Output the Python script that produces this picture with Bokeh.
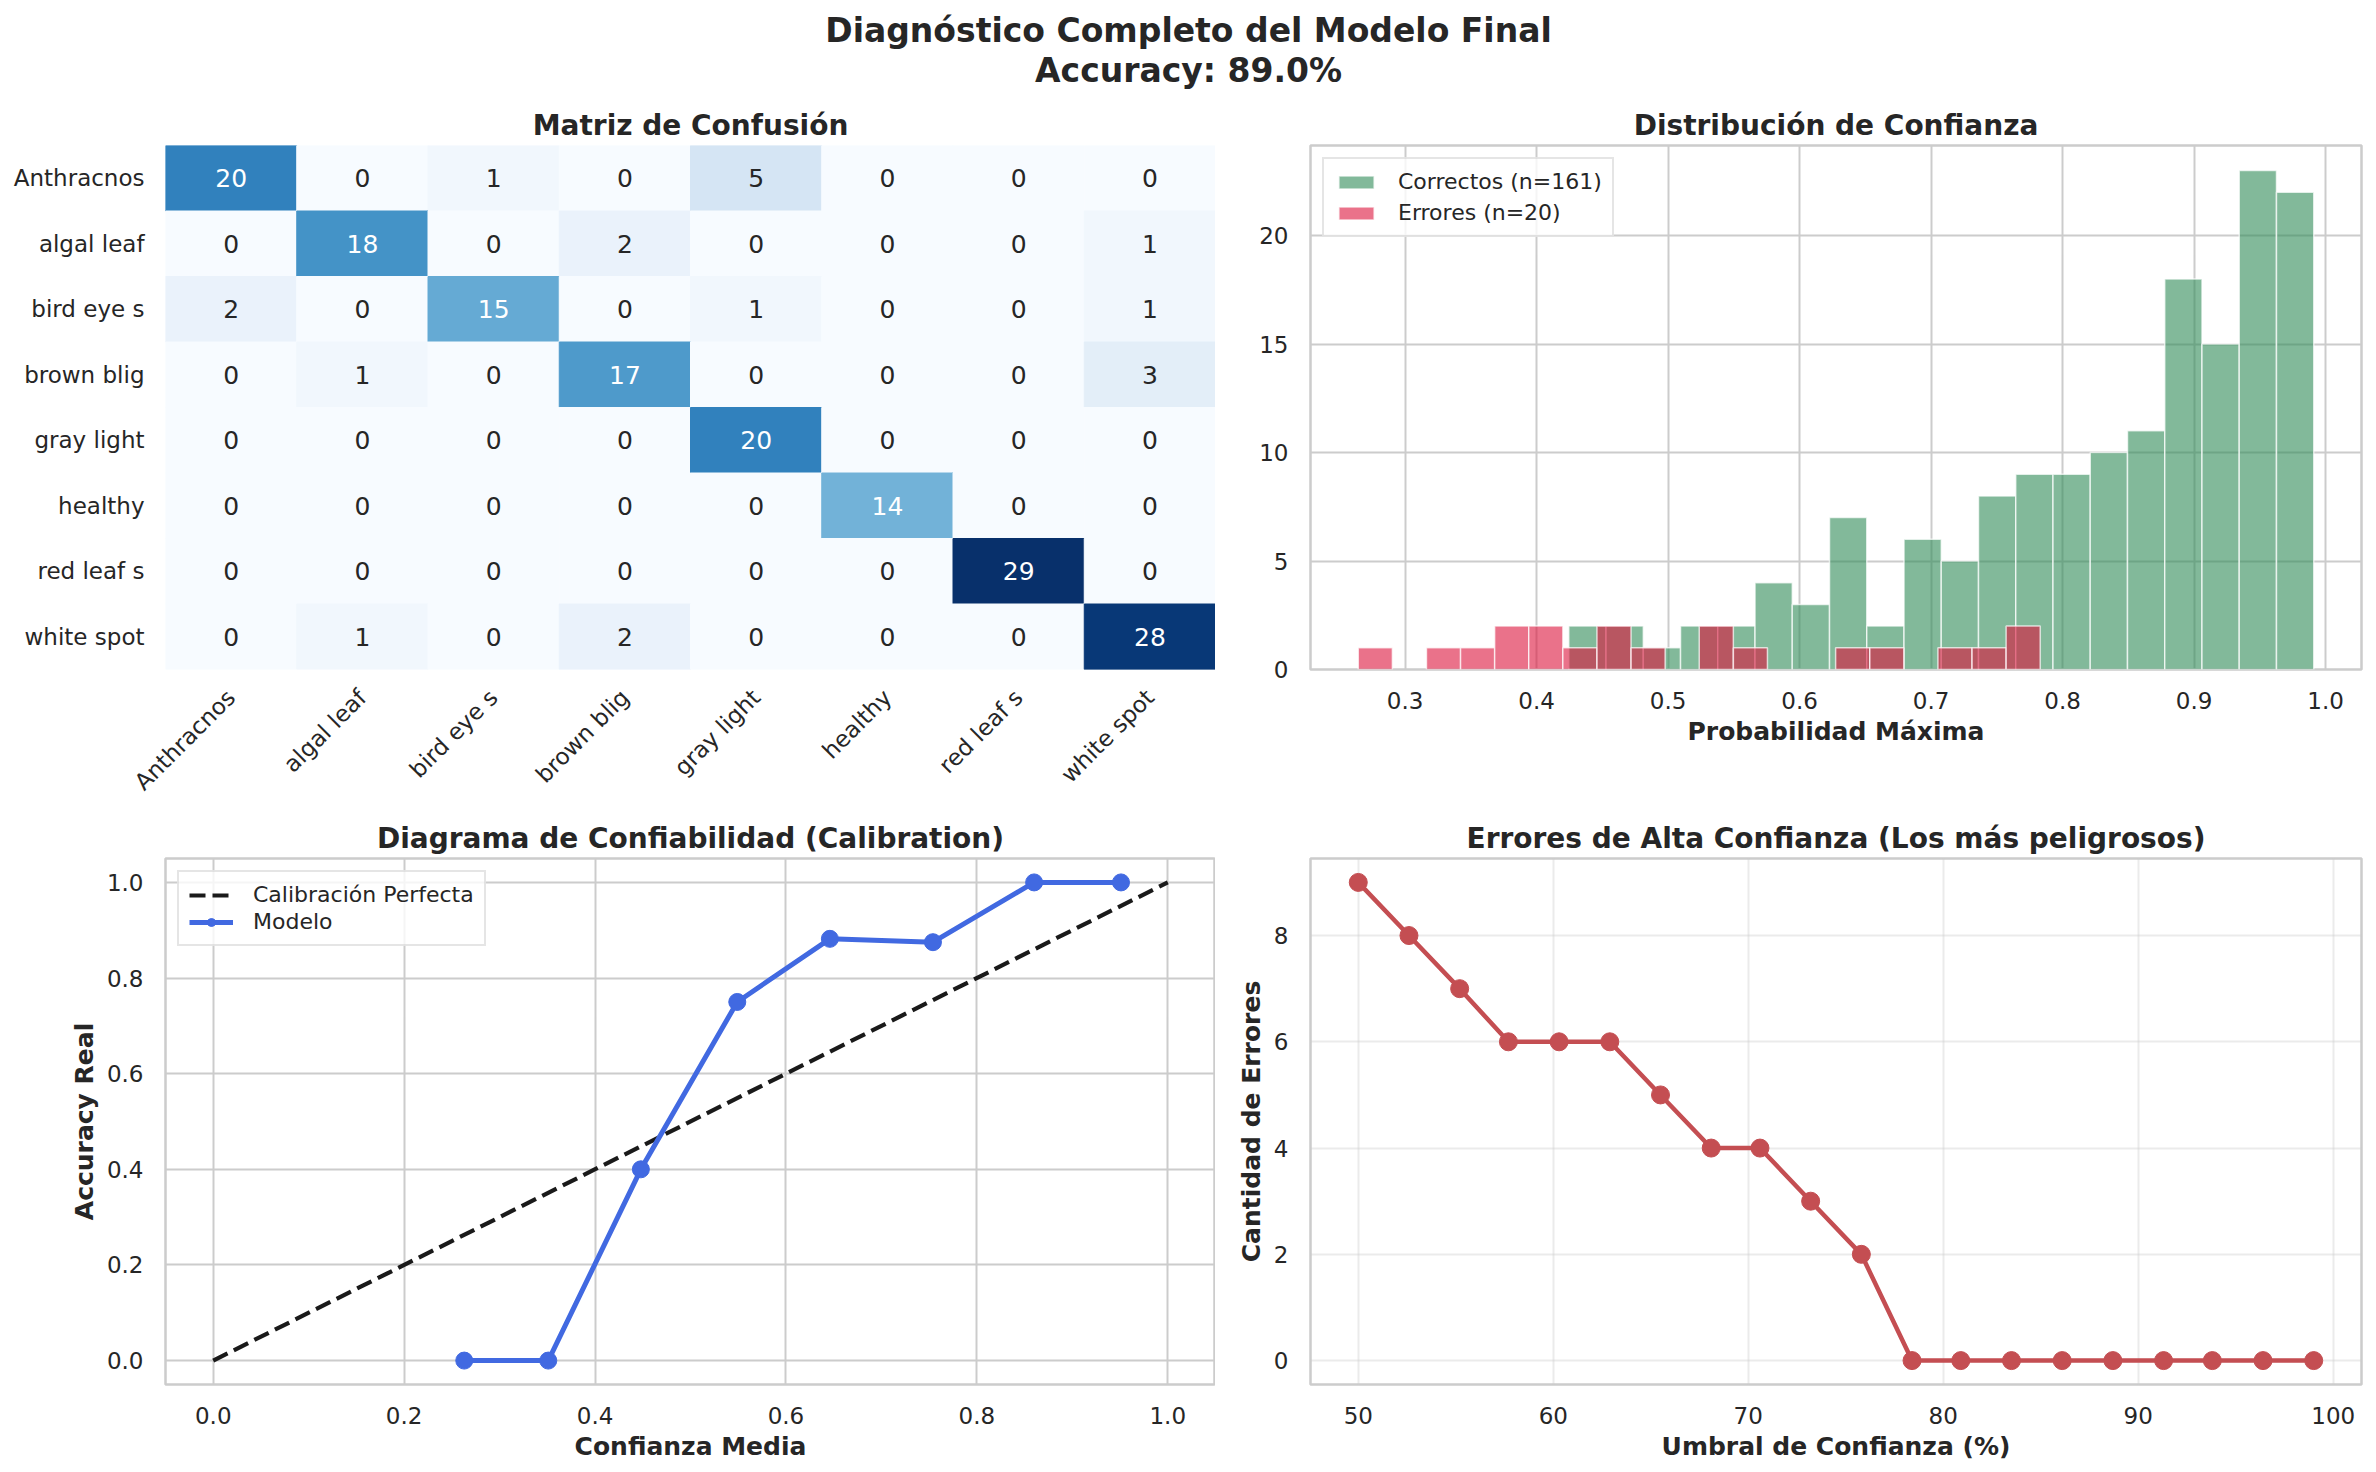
import math
import numpy as np
from bokeh.plotting import figure
from bokeh.layouts import column, row
from bokeh.models import (Range1d, FactorRange, FixedTicker, NumeralTickFormatter,
                          ColumnDataSource)
from bokeh.palettes import Blues256
from bokeh.transform import linear_cmap
from bokeh.core.properties import value
from bokeh.embed import file_html
from bokeh.resources import INLINE

FONT = "DejaVu Sans"
INK = "#262626"
SPINE = "#cccccc"

# ---------------- data ----------------
classes = ["Anthracnos", "algal leaf", "bird eye s", "brown blig",
           "gray light", "healthy", "red leaf s", "white spot"]

confusion = [
    [20, 0, 1, 0, 5, 0, 0, 0],
    [0, 18, 0, 2, 0, 0, 0, 1],
    [2, 0, 15, 0, 1, 0, 0, 1],
    [0, 1, 0, 17, 0, 0, 0, 3],
    [0, 0, 0, 0, 20, 0, 0, 0],
    [0, 0, 0, 0, 0, 14, 0, 0],
    [0, 0, 0, 0, 0, 0, 29, 0],
    [0, 1, 0, 2, 0, 0, 0, 28],
]

# histogram of max probability (20 bins each)
correct_counts = [2, 2, 1, 2, 2, 4, 3, 7, 2, 6, 5, 8, 9, 9, 10, 11, 18, 15, 23, 22]
correct_span = (0.4245, 0.991)
error_counts = [1, 0, 1, 1, 2, 2, 1, 2, 1, 0, 2, 1, 0, 0, 1, 1, 0, 1, 1, 2]
error_span = (0.2644, 0.783)

# reliability diagram
calib_conf = [0.263, 0.351, 0.448, 0.549, 0.646, 0.754, 0.860, 0.951]
calib_acc = [0.0, 0.0, 0.4, 0.75, 0.882, 0.875, 1.0, 1.0]

# high-confidence errors by threshold
thresholds = [50.0, 52.6, 55.2, 57.7, 60.3, 62.9, 65.5, 68.1, 70.6, 73.2,
              75.8, 78.4, 80.9, 83.5, 86.1, 88.7, 91.3, 93.8, 96.4, 99.0]
high_conf_errors = [9, 8, 7, 6, 6, 6, 5, 4, 4, 3, 2, 0, 0, 0, 0, 0, 0, 0, 0, 0]

cm = np.array(confusion)
accuracy = cm.trace() / cm.sum() * 100


def style_axes(p, grid_alpha=1.0):
    p.background_fill_color = "white"
    p.border_fill_color = "white"
    p.outline_line_color = SPINE
    p.outline_line_width = 2.5
    for ax in p.axis:
        ax.axis_line_color = None
        ax.major_tick_line_color = None
        ax.minor_tick_line_color = None
        ax.major_label_text_font = FONT
        ax.major_label_text_font_size = "23px"
        ax.major_label_text_color = INK
        ax.axis_label_text_font = FONT
        ax.axis_label_text_font_size = "25px"
        ax.axis_label_text_font_style = "bold"
        ax.axis_label_text_color = INK
        ax.major_label_standoff = 16
        ax.axis_label_standoff = 5
    p.grid.grid_line_color = SPINE
    p.grid.grid_line_width = 2
    p.grid.grid_line_alpha = grid_alpha
    p.title.text_font = FONT
    p.title.text_font_size = "28px"
    p.title.text_font_style = "bold"
    p.title.text_color = INK
    p.title.align = "center"
    p.title.standoff = 8


def style_legend(p, glyph_height=16):
    lg = p.legend[0]
    lg.location = "top_left"
    lg.label_text_font = FONT
    lg.label_text_font_size = "22px"
    lg.label_text_color = INK
    lg.border_line_color = SPINE
    lg.border_line_width = 2
    lg.background_fill_alpha = 0.8
    lg.glyph_width = 44
    lg.glyph_height = glyph_height
    lg.label_standoff = 20
    lg.padding = 10
    lg.spacing = 6
    lg.margin = 12


# ---------------- super title ----------------
sup = figure(width=2376, height=95, x_range=(0, 1), y_range=(0, 95),
             x_axis_type=None, y_axis_type=None, toolbar_location=None,
             output_backend="svg", min_border=0)
sup.outline_line_color = None
sup.grid.visible = False
sup.text(x=[0.5, 0.5], y=[65, 25],
         text=["Diagnóstico Completo del Modelo Final", f"Accuracy: {accuracy:.1f}%"],
         text_font=value(FONT), text_font_size="33px", text_font_style="bold",
         text_color=INK, text_align="center", text_baseline="middle")

# ---------------- confusion matrix ----------------
rows_true, cols_pred, counts = [], [], []
for i, t in enumerate(classes):
    for j, pr in enumerate(classes):
        rows_true.append(t)
        cols_pred.append(pr)
        counts.append(confusion[i][j])
vmax = cm.max()
src = ColumnDataSource(dict(
    true=rows_true, pred=cols_pred, count=counts,
    label=[str(c) for c in counts],
    tcolor=["white" if c > vmax * 0.4 else INK for c in counts],
))
p1 = figure(x_range=FactorRange(*classes), y_range=FactorRange(*classes[::-1]),
            frame_width=1050, frame_height=524,
            min_border_left=165, min_border_right=0,
            min_border_top=50, min_border_bottom=140,
            title="Matriz de Confusión", toolbar_location=None, output_backend="svg")
cmap = linear_cmap("count", Blues256[::-1], 0, vmax)
p1.rect(x="pred", y="true", width=1, height=1, source=src,
        fill_color=cmap, line_color=cmap, line_width=1)
p1.text(x="pred", y="true", text="label", source=src, text_color="tcolor",
        text_font=value(FONT), text_font_size="25px",
        text_align="center", text_baseline="middle")
style_axes(p1)
p1.outline_line_color = None
p1.grid.visible = False
p1.xaxis.major_label_orientation = math.pi / 4
p1.xaxis.major_label_standoff = 18
p1.yaxis.major_label_standoff = 15

# ---------------- confidence histogram ----------------
c_edges = np.linspace(correct_span[0], correct_span[1], len(correct_counts) + 1)
e_edges = np.linspace(error_span[0], error_span[1], len(error_counts) + 1)
lo = min(correct_span[0], error_span[0])
hi = max(correct_span[1], error_span[1])
pad = (hi - lo) * 0.05
ymax = max(max(correct_counts), max(error_counts)) * 1.05

p2 = figure(x_range=Range1d(lo - pad, hi + pad), y_range=Range1d(0, ymax),
            frame_width=1051, frame_height=524,
            min_border_left=95, min_border_right=15,
            min_border_top=50, min_border_bottom=140,
            title="Distribución de Confianza", toolbar_location=None, output_backend="svg")


def hist(p, edges, cnts, color, label):
    cnts = np.array(cnts)
    keep = cnts > 0
    p.quad(left=edges[:-1][keep], right=edges[1:][keep], bottom=0, top=cnts[keep],
           fill_color=color, fill_alpha=0.6, line_color="white", line_alpha=0.7,
           line_width=1.5, legend_label=label)


hist(p2, c_edges, correct_counts, "#2E8B57", f"Correctos (n={sum(correct_counts)})")
hist(p2, e_edges, error_counts, "#DC143C", f"Errores (n={sum(error_counts)})")
style_axes(p2)
style_legend(p2)
p2.xaxis.ticker = FixedTicker(ticks=[0.3, 0.4, 0.5, 0.6, 0.7, 0.8, 0.9, 1.0])
p2.xaxis.formatter = NumeralTickFormatter(format="0.0")
p2.yaxis.ticker = FixedTicker(ticks=[0, 5, 10, 15, 20])
p2.xaxis.axis_label = "Probabilidad Máxima"

# ---------------- reliability diagram ----------------
p3 = figure(x_range=Range1d(-0.05, 1.05), y_range=Range1d(-0.05, 1.05),
            frame_width=1050, frame_height=526,
            min_border_left=165, min_border_right=0,
            min_border_top=49, min_border_bottom=88,
            title="Diagrama de Confiabilidad (Calibration)",
            toolbar_location=None, output_backend="svg")
p3.line([0, 1], [0, 1], line_color="#1a1a1a", line_width=4.2, line_dash="16 7",
        legend_label="Calibración Perfecta")
p3.line(calib_conf, calib_acc, line_color="#4169E1", line_width=5, legend_label="Modelo")
p3.scatter(calib_conf, calib_acc, size=17, fill_color="#4169E1", line_color="#4169E1",
           legend_label="Modelo")
style_axes(p3)
style_legend(p3, glyph_height=20)
p3.legend[0].spacing = 2
ticks01 = [0.0, 0.2, 0.4, 0.6, 0.8, 1.0]
p3.xaxis.ticker = FixedTicker(ticks=ticks01)
p3.yaxis.ticker = FixedTicker(ticks=ticks01)
p3.xaxis.formatter = NumeralTickFormatter(format="0.0")
p3.yaxis.formatter = NumeralTickFormatter(format="0.0")
p3.xaxis.axis_label = "Confianza Media"
p3.yaxis.axis_label = "Accuracy Real"

# ---------------- high-confidence errors ----------------
xpad = (max(thresholds) - min(thresholds)) * 0.05
ypad = max(high_conf_errors) * 0.05
p4 = figure(x_range=Range1d(min(thresholds) - xpad, max(thresholds) + xpad),
            y_range=Range1d(-ypad, max(high_conf_errors) + ypad),
            frame_width=1051, frame_height=526,
            min_border_left=95, min_border_right=15,
            min_border_top=49, min_border_bottom=88,
            title="Errores de Alta Confianza (Los más peligrosos)",
            toolbar_location=None, output_backend="svg")
p4.line(thresholds, high_conf_errors, line_color="#C44E52", line_width=4.5)
p4.scatter(thresholds, high_conf_errors, size=18, fill_color="#C44E52", line_color="#C44E52")
style_axes(p4, grid_alpha=0.4)
p4.xaxis.ticker = FixedTicker(ticks=[50, 60, 70, 80, 90, 100])
p4.yaxis.ticker = FixedTicker(ticks=[0, 2, 4, 6, 8])
p4.xaxis.axis_label = "Umbral de Confianza (%)"
p4.yaxis.axis_label = "Cantidad de Errores"

layout = column(sup, row(p1, p2), row(p3, p4))
open("out.html", "w").write(file_html(layout, INLINE))
